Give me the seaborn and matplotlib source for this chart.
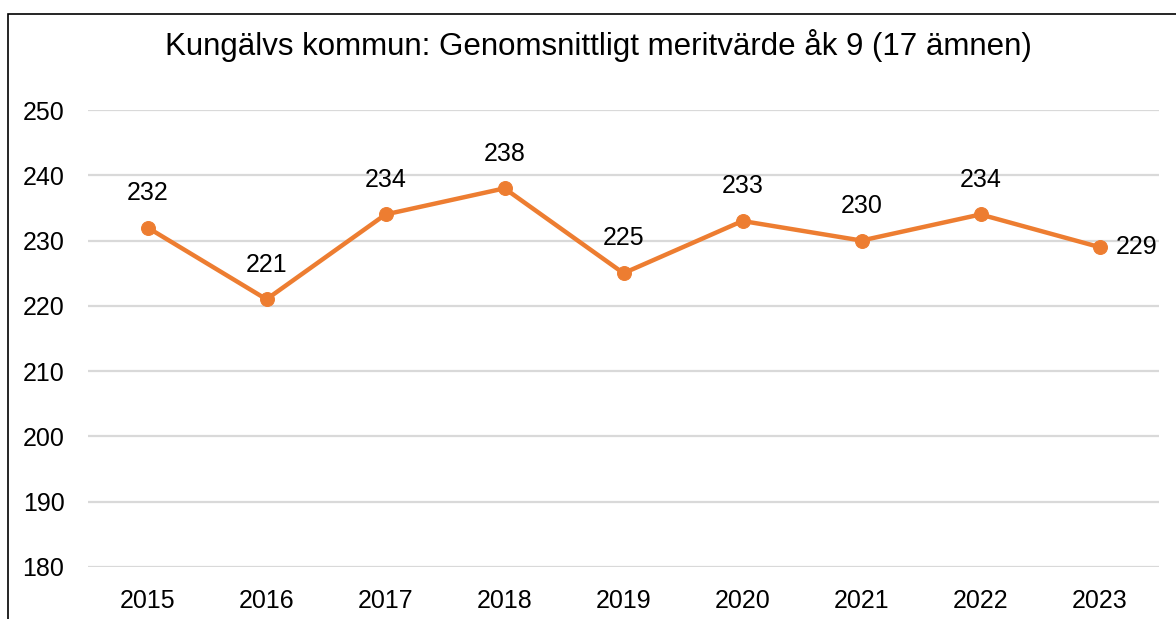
import matplotlib
matplotlib.use("Agg")
import matplotlib.pyplot as plt
import matplotlib.patches as mpatches
import seaborn as sns
import pandas as pd

## Data
years = [2015, 2016, 2017, 2018, 2019, 2020, 2021, 2022, 2023]
merit = [232, 221, 234, 238, 225, 233, 230, 234, 229]
yticks = [180, 190, 200, 210, 220, 230, 240, 250]
title = "Kungälvs kommun: Genomsnittligt meritvärde åk 9 (17 ämnen)"

df = pd.DataFrame({"year": years, "merit": merit})

sns.set_style("white")
plt.rcParams['font.family'] = ['Liberation Sans', 'DejaVu Sans']
plt.rcParams['text.color'] = 'black'
plt.rcParams['xtick.color'] = 'black'
plt.rcParams['ytick.color'] = 'black'

orange = "#ED7D31"

fig = plt.figure(figsize=(11.76, 6.19), dpi=100)
ax = fig.add_axes([88/1176, 52/619, 1071/1176, 457/619])

sns.lineplot(data=df, x="year", y="merit", ax=ax, color=orange, linewidth=3.2,
             marker="o", markersize=10, markeredgecolor=orange, zorder=3)

ax.set_xlim(years[0] - 0.5, years[-1] + 0.5)
ax.set_ylim(180, 250)
ax.set_yticks(yticks)
ax.set_xticks(years)
ax.set_xticklabels([str(y) for y in years])
ax.yaxis.grid(True, color="#D9D9D9", linewidth=1.6)
ax.set_axisbelow(True)
for s in ax.spines.values():
    s.set_visible(False)
ax.tick_params(axis='y', length=0, pad=17, labelsize=18, labelcolor='black')
ax.tick_params(axis='x', length=0, pad=16, labelsize=18, labelcolor='black')
ax.set_xlabel("")
ax.set_ylabel("")

## data labels
for i, (x, y) in enumerate(zip(years, merit)):
    if i == len(years) - 1:
        ax.annotate(str(y), (x, y), xytext=(12, 0), textcoords="offset points",
                    ha="left", va="center", fontsize=18, color="black")
    else:
        ax.annotate(str(y), (x, y), xytext=(0, 25), textcoords="offset points",
                    ha="center", va="center", fontsize=18, color="black")

fig.text(598/1176, 1 - 46/619, title, ha="center", va="center", fontsize=22.5,
         color="black")

# chart border
fig.patches.append(mpatches.Rectangle((8/1176, -0.1), 1.2, 1 - 14/619 + 0.1,
                                      transform=fig.transFigure, fill=False,
                                      edgecolor="black", linewidth=1.2))

fig.savefig("out.png", dpi=100)
